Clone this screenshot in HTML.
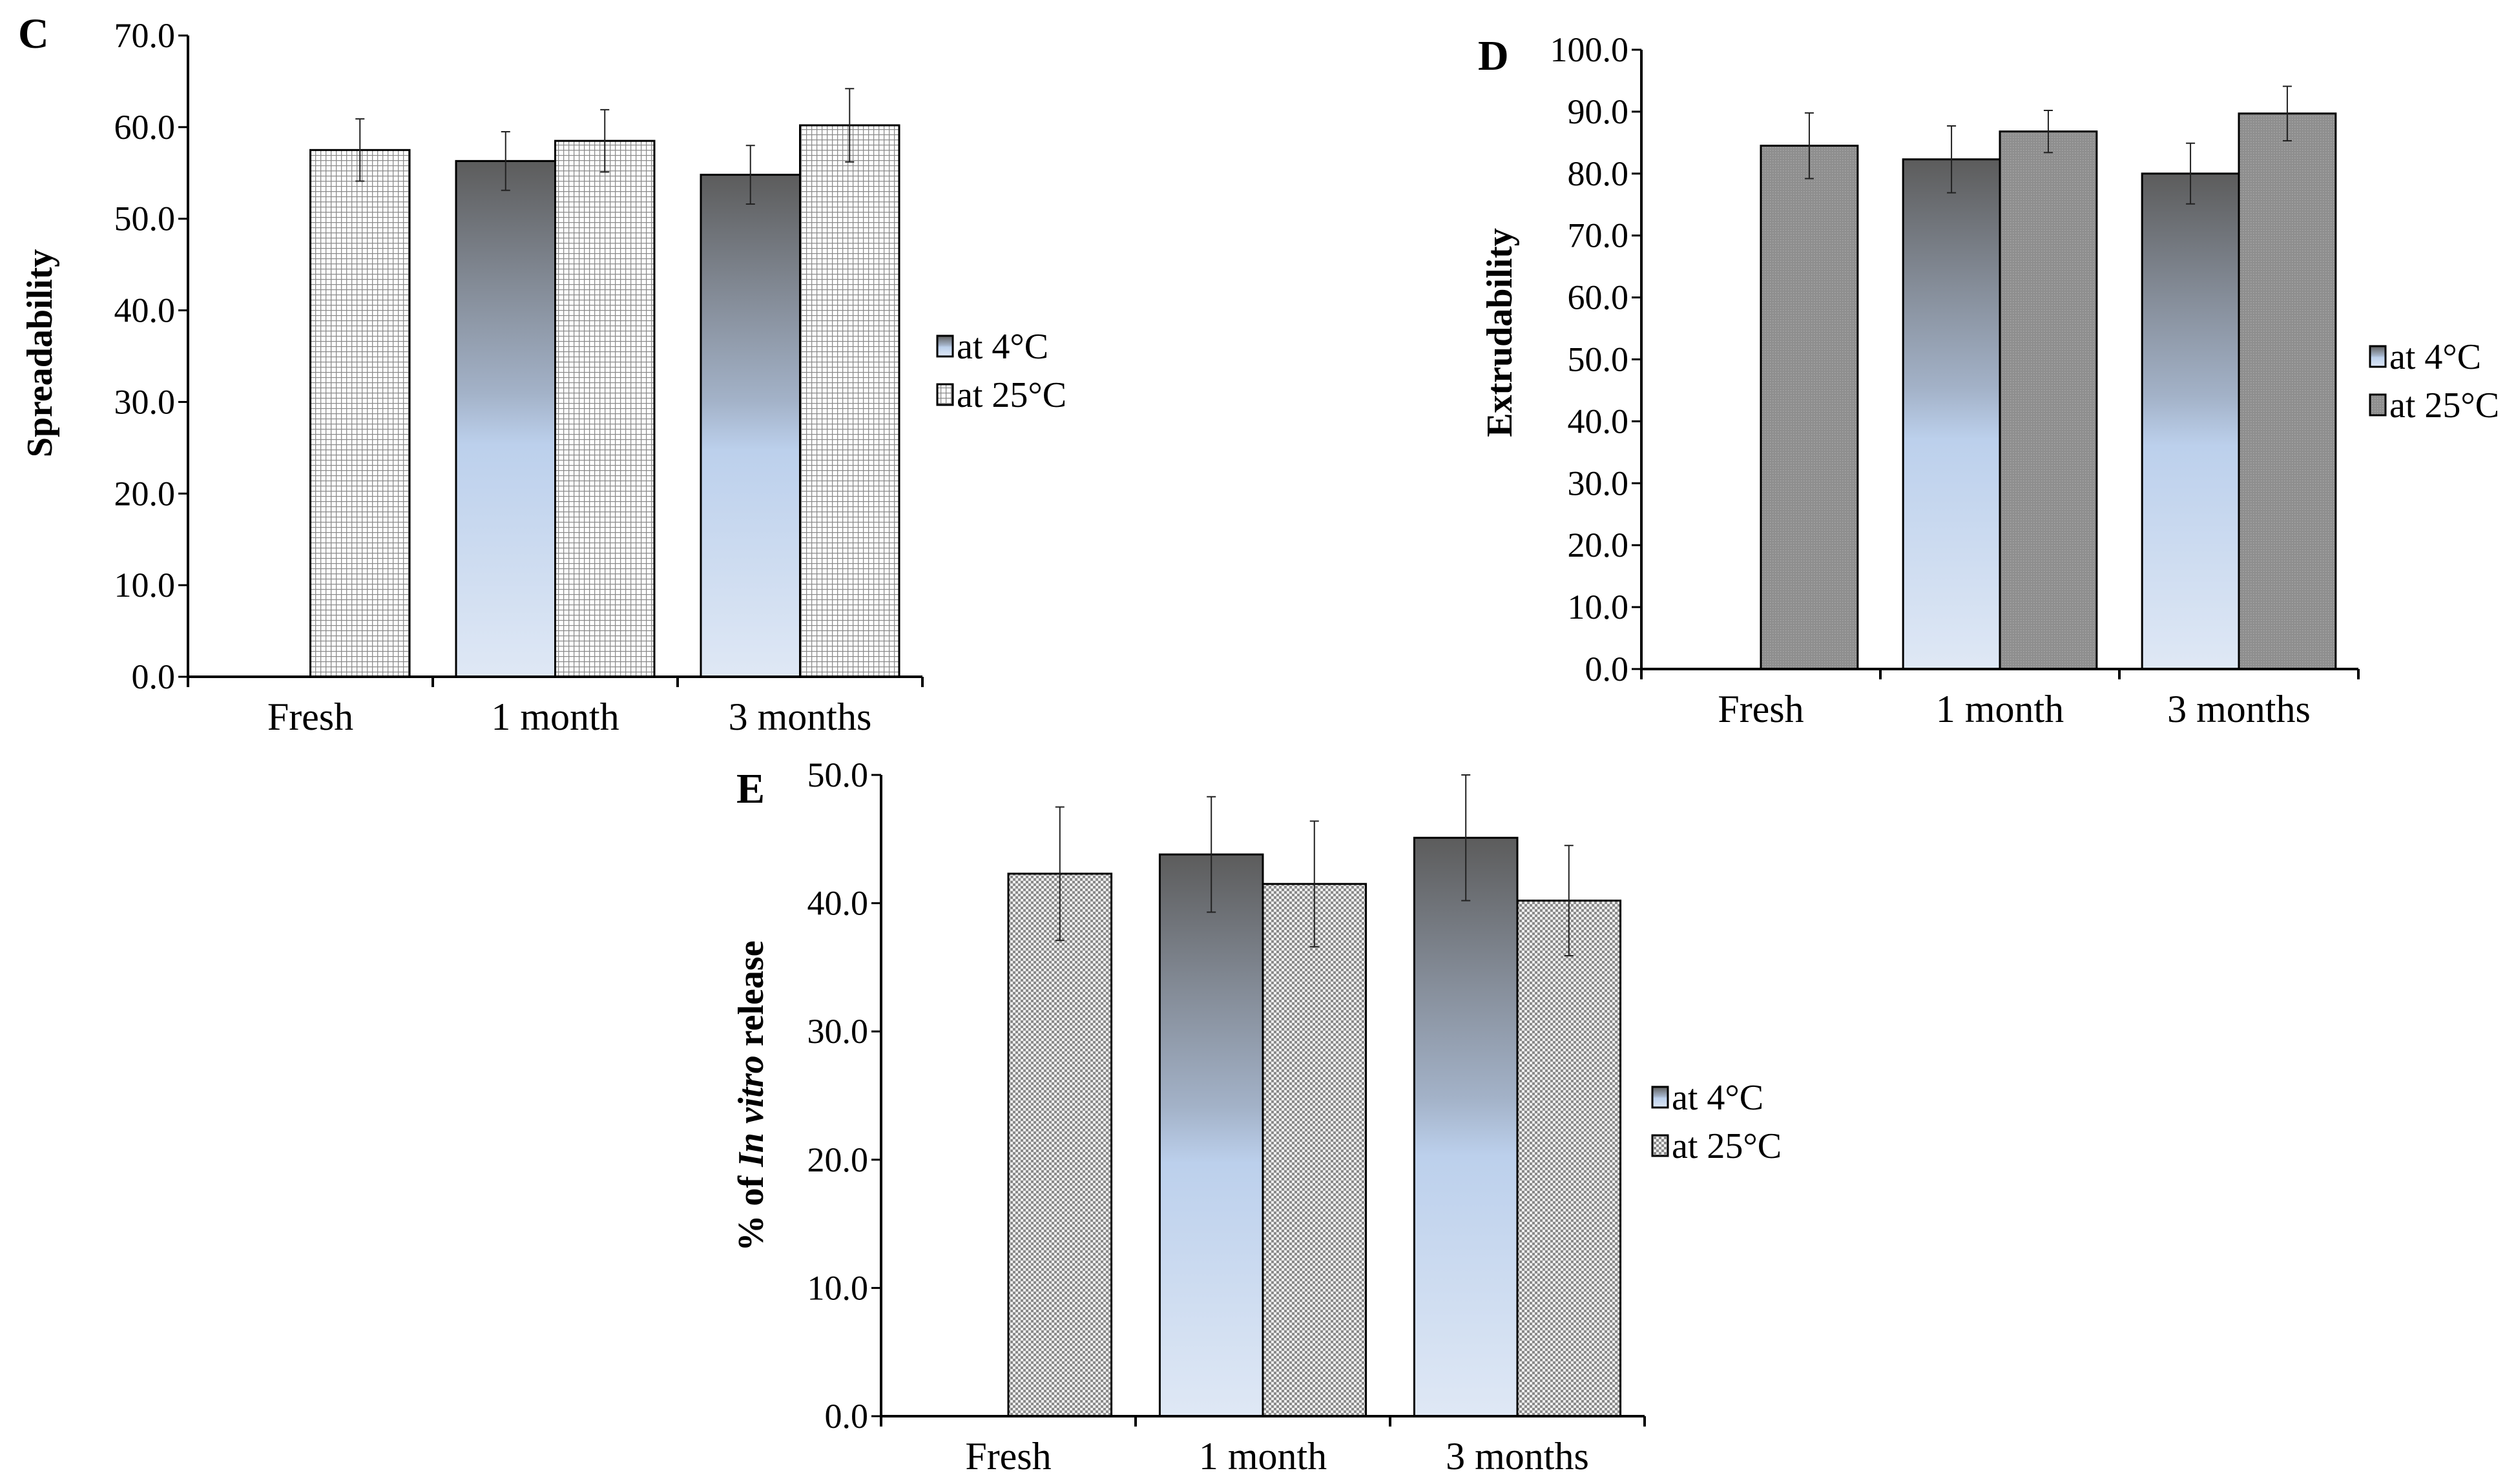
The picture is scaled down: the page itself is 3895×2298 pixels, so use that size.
<!DOCTYPE html>
<html><head><meta charset="utf-8"><style>
html,body{margin:0;padding:0;background:#fff;}
svg{display:block;font-family:"Liberation Serif",serif;}
</style></head><body>
<svg id="fig" width="3895" height="2298" viewBox="0 0 3895 2298" xmlns="http://www.w3.org/2000/svg">
<defs>
<linearGradient id="g4" x1="0" y1="0" x2="0" y2="1">
<stop offset="0" stop-color="#5c5c5c"/>
<stop offset="0.25" stop-color="#858d99"/>
<stop offset="0.45" stop-color="#a3b2c8"/>
<stop offset="0.55" stop-color="#bcd0ec"/>
<stop offset="1" stop-color="#dfe8f5"/>
</linearGradient>
<pattern id="pGrid" width="8" height="8" patternUnits="userSpaceOnUse">
<rect width="8" height="8" fill="#fff"/>
<path d="M0 0.5H8M0.5 0V8" stroke="#8a8a8a" stroke-width="1.5"/>
</pattern>
<pattern id="pDot" width="4" height="4" patternUnits="userSpaceOnUse">
<rect width="4" height="4" fill="#8e8e8e"/>
<rect width="1.5" height="1.5" fill="#a8a8a8"/>
</pattern>
<pattern id="pCheck" width="8" height="8" patternUnits="userSpaceOnUse">
<rect width="8" height="8" fill="#eeeeee"/>
<rect width="4" height="4" fill="#8a8a8a"/>
<rect x="4" y="4" width="4" height="4" fill="#8a8a8a"/>
</pattern>
</defs>
</svg>
<script>
const categories = ["Fresh", "1 month", "3 months"];
const seriesNames = ["at 4°C", "at 25°C"];
// Chart C
const cTicks = [0,10,20,30,40,50,60,70];
const c4 = [null, 56.3, 54.8];
const c4err = [null, 3.2, 3.2];
const c25 = [57.5, 58.5, 60.2];
const c25err = [3.4, 3.4, 4.0];
// Chart D
const dTicks = [0,10,20,30,40,50,60,70,80,90,100];
const d4 = [null, 82.3, 80.0];
const d4err = [null, 5.4, 4.9];
const d25 = [84.5, 86.8, 89.7];
const d25err = [5.3, 3.4, 4.4];
// Chart E
const eTicks = [0,10,20,30,40,50];
const e4 = [null, 43.8, 45.1];
const e4err = [null, 4.5, 4.9];
const e25 = [42.3, 41.5, 40.2];
const e25err = [5.2, 4.9, 4.3];

const NS = "http://www.w3.org/2000/svg";
const svg = document.getElementById('fig');
function mk(tag, attrs, parent, text){
  const e = document.createElementNS(NS, tag);
  for (const k in attrs) e.setAttribute(k, attrs[k]);
  if (text !== undefined) e.textContent = text;
  (parent || svg).appendChild(e);
  return e;
}

function chart(cfg){
  const g = mk('g', {});
  
  
  const yMax = cfg.ticks[cfg.ticks.length-1];
  const ys = v => cfg.y0 - (v / yMax) * (cfg.y0 - cfg.yTop);
  const gw = (cfg.xEnd - cfg.x0) / categories.length;
  const bw = gw * 0.405;
  const L = mk('text', {x: cfg.letterX, y: cfg.letterY, 'font-size': 66, 'font-weight': 'bold'}, g, cfg.letter);
  
  
  cfg.ticks.forEach(t => {
    const y = ys(t);
    mk('line', {x1: cfg.x0 - 15, x2: cfg.x0, y1: y, y2: y, stroke: '#000', 'stroke-width': 3}, g);
    const tx = mk('text', {x: cfg.x0 - 20, y: y + 18, 'font-size': 54, 'text-anchor': 'end'}, g, t.toFixed(1));
    
    
  });
  categories.forEach((c, i) => {
    const cx = cfg.x0 + gw * (i + 0.5);
    [[cfg.s4, cfg.e4, 'url(#g4)', cx - bw, 'bar-4c'], [cfg.s25, cfg.e25, cfg.pat, cx, 'bar-25c']].forEach(([s, e, fill, x, nm]) => {
      const v = s[i];
      if (v === null) return;
      const r = mk('rect', {x: x, y: ys(v), width: bw, height: cfg.y0 - ys(v), fill: fill, stroke: '#000', 'stroke-width': 3}, g);
      
      
      const ex = x + bw / 2;
      const yt = ys(v + e[i]), yb = ys(v - e[i]);
      const eb = mk('path', {d: `M${ex} ${yt}V${yb}M${ex-7} ${yt}H${ex+7}M${ex-7} ${yb}H${ex+7}`, stroke: '#222', 'stroke-width': 2, fill: 'none'}, g);
      
      
    });
    const cl = mk('text', {x: cx, y: cfg.y0 + 82, 'font-size': 60, 'text-anchor': 'middle'}, g, c);
    
    
  });
  mk('line', {x1: cfg.x0, x2: cfg.x0, y1: cfg.yTop, y2: cfg.y0, stroke: '#000', 'stroke-width': 4}, g);
  mk('line', {x1: cfg.x0, x2: cfg.xEnd, y1: cfg.y0, y2: cfg.y0, stroke: '#000', 'stroke-width': 4}, g);
  for (let i = 0; i <= categories.length; i++){
    const x = cfg.x0 + gw * i;
    mk('line', {x1: x, x2: x, y1: cfg.y0, y2: cfg.y0 + 16, stroke: '#000', 'stroke-width': 4}, g);
  }
  const yt = mk('text', {x: 0, y: 0, 'font-size': 56, 'font-weight': 'bold', 'text-anchor': 'middle', transform: `translate(${cfg.titleX},${cfg.titleY}) rotate(-90)`}, g);
  
  
  cfg.title.forEach(([t, it]) => { mk('tspan', it ? {'font-style': 'italic'} : {}, yt, t); });
  [['url(#g4)', 0], [cfg.pat, 1]].forEach(([f, k]) => {
    const ly = cfg.legY + k * 75;
    const lg = mk('g', {}, g);
    
    
    mk('rect', {x: cfg.legX, y: ly - 16, width: 24, height: 32, fill: f, stroke: '#000', 'stroke-width': 3}, lg);
    mk('text', {x: cfg.legX + 30, y: ly + 19, 'font-size': 56}, lg, seriesNames[k]);
  });
}

chart({name: 'spreadability-chart', letter: 'C', letterX: 28, letterY: 74, x0: 291, xEnd: 1428, yTop: 55, y0: 1048,
  ticks: cTicks, s4: c4, e4: c4err, s25: c25, e25: c25err, pat: 'url(#pGrid)',
  titleX: 80, titleY: 547, title: [['Spreadability', false]], legX: 1451, legY: 536});
chart({name: 'extrudability-chart', letter: 'D', letterX: 2288, letterY: 108, x0: 2541, xEnd: 3651, yTop: 77, y0: 1036,
  ticks: dTicks, s4: d4, e4: d4err, s25: d25, e25: d25err, pat: 'url(#pDot)',
  titleX: 2340, titleY: 515, title: [['Extrudability', false]], legX: 3669, legY: 552});
chart({name: 'in-vitro-release-chart', letter: 'E', letterX: 1140, letterY: 1243, x0: 1364, xEnd: 2546, yTop: 1200, y0: 2193,
  ticks: eTicks, s4: e4, e4: e4err, s25: e25, e25: e25err, pat: 'url(#pCheck)',
  titleX: 1181, titleY: 1697, title: [['% of ', false], ['In vitro', true], [' release', false]], legX: 2558, legY: 1699});
</script>
</body></html>
